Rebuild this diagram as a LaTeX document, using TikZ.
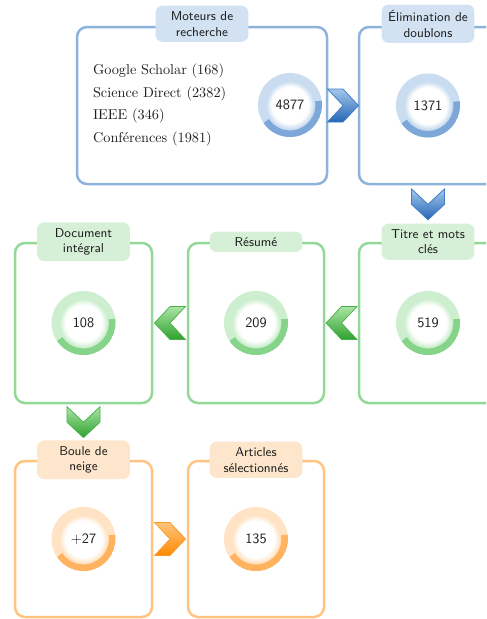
\documentclass[tikz,border=0pt]{standalone}
\usetikzlibrary{fit,calc}

% palette
\definecolor{ink}{HTML}{1E1E1E}
\definecolor{blueBorder}{HTML}{8CB3DC}
\definecolor{blueTab}{HTML}{D2E2F3}
\definecolor{blueRingLight}{HTML}{C9DCF0}
\definecolor{blueRingDark}{HTML}{7DA7D8}
\definecolor{blueTop}{HTML}{A3C7EE}
\definecolor{blueBot}{HTML}{2566B4}
\definecolor{blueEdge}{HTML}{3D7BC4}
\definecolor{greenBorder}{HTML}{93D896}
\definecolor{greenTab}{HTML}{D6F0D7}
\definecolor{greenRingLight}{HTML}{CDEFCF}
\definecolor{greenRingDark}{HTML}{86D38A}
\definecolor{greenTop}{HTML}{ABE4A5}
\definecolor{greenBot}{HTML}{2EA22E}
\definecolor{greenEdge}{HTML}{4AB04A}
\definecolor{orangeBorder}{HTML}{FFC382}
\definecolor{orangeTab}{HTML}{FDE6CB}
\definecolor{orangeRingLight}{HTML}{FFE3C4}
\definecolor{orangeRingDark}{HTML}{FFB35E}
\definecolor{orangeTop}{HTML}{FFC47C}
\definecolor{orangeBot}{HTML}{FF8A00}
\definecolor{orangeEdge}{HTML}{F59A2C}

% soft inner glow of the counter discs
\pgfdeclareradialshading{haloblue}{\pgfpoint{0bp}{0bp}}{color(0bp)=(white); color(19bp)=(white); color(25bp)=(blueRingLight)}
\pgfdeclareradialshading{halogreen}{\pgfpoint{0bp}{0bp}}{color(0bp)=(white); color(19bp)=(white); color(25bp)=(greenRingLight)}
\pgfdeclareradialshading{haloorange}{\pgfpoint{0bp}{0bp}}{color(0bp)=(white); color(19bp)=(white); color(25bp)=(orangeRingLight)}

\tikzset{
  panel/.style={draw=#1Border, line width=1.75pt, rounded corners=7pt, inner sep=0pt},
  tab/.style={fill=#1Tab, rounded corners=5pt, minimum width=65pt, align=center,
    font=\sffamily\small, text=ink, inner xsep=2pt, inner ysep=4pt},
  ring/.style={circle, minimum size=44.8pt, inner sep=0pt, fill=#1RingLight,
    font=\sffamily, text=ink,
    path picture={
      \draw[#1RingDark, line width=4.6pt] (path picture bounding box.center) ++(8:20.1pt)
        arc[start angle=8, end angle=-146, radius=20.1pt];
      \shade[shading=halo#1] (path picture bounding box.center) circle (16.8pt);
    }},
  chev/.style={shade, top color=#1Top, bottom color=#1Bot, draw=#1Edge, line width=0.5pt, line join=miter},
  pics/chevR/.style={code={\path[chev=#1] (-15.5,-16.5) -- (0,-16.5) -- (15.5,0) -- (0,16.5) -- (-15.5,16.5) -- (0,0) -- cycle;}},
  pics/chevL/.style={code={\path[chev=#1] (15.5,-16.5) -- (0,-16.5) -- (-15.5,0) -- (0,16.5) -- (15.5,16.5) -- (0,0) -- cycle;}},
  pics/chevD/.style={code={\path[chev=#1] (-16.5,-15.5) -- (0,0) -- (16.5,-15.5) -- (16.5,0) -- (0,15.5) -- (-16.5,0) -- cycle;}},
}

\begin{document}
\begin{tikzpicture}[x=0.7pt, y=-0.7pt]
\useasboundingbox (0,0) rectangle (486,619);
\clip (0,0) rectangle (486,619);

% stage panels
\node[panel=blue,   fit={(77,27)(327,184)}]   (b1) {};
\node[panel=blue,   fit={(359,27)(497,184)}]  (b2) {};
\node[panel=green,  fit={(359,243)(497,403)}] (b3) {};
\node[panel=green,  fit={(188,243)(324,403)}] (b4) {};
\node[panel=green,  fit={(15,243)(152,403)}]  (b5) {};
\node[panel=orange, fit={(15,461)(152,617)}]  (b6) {};
\node[panel=orange, fit={(188,461)(324,617)}] (b7) {};

% stage titles
\node[tab=blue]   (t1) at ($(b1.north)+(0,-2)$) {Moteurs de\\recherche};
\node[tab=blue]   (t2) at ($(b2.north)+(0,-2)$) {Élimination de\\doublons};
\node[tab=green]  (t3) at (b3.north) {Titre et mots\\clés};
\node[tab=green]  (t4) at (b4.north) {Résumé};
\node[tab=green]  (t5) at (b5.north) {Document\\intégral};
\node[tab=orange] (t6) at (b6.north) {Boule de\\neige};
\node[tab=orange] (t7) at (b7.north) {Articles\\sélectionnés};

% sources
\node[anchor=west, align=left, text=ink, font=\rmfamily\fontsize{10}{15.8}\selectfont]
  (src) at (88,105) {Google Scholar (168)\\Science Direct (2382)\\IEEE (346)\\Conférences (1981)};

% counters
\node[ring=blue]   (r1) at (290,105)   {4877};
\node[ring=blue]   (r2) at (b2.center) {1371};
\node[ring=green]  (r3) at (b3.center) {519};
\node[ring=green]  (r4) at (b4.center) {209};
\node[ring=green]  (r5) at (b5.center) {108};
\node[ring=orange] (r6) at (b6.center) {+27};
\node[ring=orange] (r7) at (b7.center) {135};

% flow chevrons
\pic at ($(b1.east)!0.5!(b2.west)$)   {chevR=blue};
\pic at ($(b2.south)!0.5!(t3.north)$) {chevD=blue};
\pic at ($(b4.east)!0.5!(b3.west)$)   {chevL=green};
\pic at ($(b5.east)!0.5!(b4.west)$)   {chevL=green};
\pic at ($(b5.south)!0.5!(t6.north)$) {chevD=green};
\pic at ($(b6.east)!0.5!(b7.west)$)   {chevR=orange};
\end{tikzpicture}
\end{document}
